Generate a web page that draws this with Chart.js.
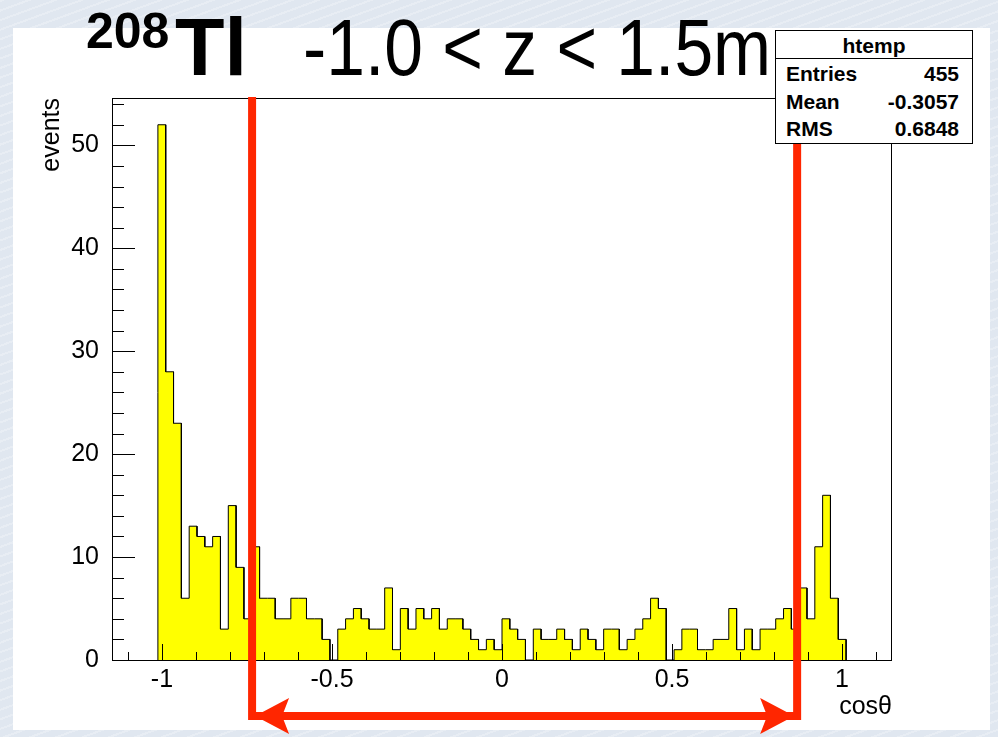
<!DOCTYPE html>
<html lang="en">
  <head>
    <meta charset="UTF-8" />
    <title>208Tl cos theta</title>
    <style>
      html,
      body {
        margin: 0;
        padding: 0;
      }
      body {
        width: 998px;
        height: 737px;
        position: relative;
        overflow: hidden;
        background-color: #e0e7f0;
        background-image: repeating-linear-gradient(
          160deg,
          rgba(255, 255, 255, 0.25) 0 2px,
          rgba(255, 255, 255, 0) 2px 9px
        );
        font-family: "Liberation Sans", Arial, sans-serif;
      }
      .panel {
        position: absolute;
        left: 13px;
        top: 28px;
        width: 977px;
        height: 702px;
        background: #fff;
      }
      #myChart {
        position: absolute;
        left: 0;
        top: 0;
      }
      .title {
        position: absolute;
        line-height: 1;
        white-space: nowrap;
        color: #000;
      }
      .narrow {
        transform: scaleX(0.87);
        transform-origin: left top;
      }
      /* stat box */
      .stats {
        position: absolute;
        left: 775px;
        top: 30px;
        width: 196px;
        height: 112px;
        border: 1px solid #000;
        background: #fff;
        font-weight: bold;
        font-size: 21px;
      }
      .stats .head {
        position: absolute;
        left: 0;
        top: 0;
        width: 100%;
        height: 27px;
        border-bottom: 1px solid #000;
        text-align: center;
        line-height: 30px;
      }
      .stats .row {
        position: absolute;
        left: 10px;
        right: 13px;
        height: 24px;
        line-height: 24px;
      }
      .stats .row span:last-child {
        float: right;
      }
    </style>
  </head>
  <body>
    <div class="panel"></div>
    <canvas id="myChart" width="998" height="737"></canvas>

    <div class="title" style="left: 86px; top: 6px; font-size: 50px; font-weight: bold">208</div>
    <div class="title" style="left: 175px; top: 7px; font-size: 81px; font-weight: bold">Tl</div>
    <div class="title narrow" style="left: 303px; top: 8px; font-size: 80px">-1.0 &lt; z &lt; 1.5m</div>

    <div class="stats" id="stats"></div>

    <script src="https://cdn.jsdelivr.net/npm/chart.js"></script>
    <script>
      // counts per bin (88 bins, sum = 455)
      const binCounts = [
        52, 28, 23, 6, 13, 12, 11, 12, 3, 15,
        9, 4, 11, 6, 6, 4, 4, 6, 6, 4,
        4, 2, 0, 3, 4, 5, 4, 3, 3, 7,
        1, 5, 3, 5, 4, 5, 3, 4, 4, 3,
        2, 1, 2, 1, 4, 3, 2, 0, 3, 2,
        2, 3, 2, 1, 3, 2, 1, 3, 3, 1,
        2, 3, 4, 6, 5, 0, 1, 3, 3, 1,
        1, 2, 2, 5, 1, 3, 1, 3, 3, 4,
        5, 3, 7, 4, 11, 16, 6, 2,
      ];
      const histRange = [-1.012, 1.012];
      const xAxisRange = [-1.147, 1.147];
      const yAxisRange = [0, 54.6];
      const xTickLabels = [-1, -0.5, 0, 0.5, 1];
      const yTickLabels = [0, 10, 20, 30, 40, 50];
      const cutValues = [-0.735, 0.868];
      const statTitle = "htemp";
      const statNames = ["Entries", "Mean", "RMS"];
      const statValues = ["455", "-0.3057", "0.6848"];

      const cutColor = "rgb(255, 38, 0)";
      const axisFont = { family: "'Liberation Sans', Arial, sans-serif", size: 25 };

      // stat box
      const stats = document.getElementById("stats");
      const head = document.createElement("div");
      head.className = "head";
      head.textContent = statTitle;
      stats.appendChild(head);
      const rowTops = [31, 59, 86];
      statNames.forEach((name, i) => {
        const row = document.createElement("div");
        row.className = "row";
        row.style.top = rowTops[i] + "px";
        row.innerHTML = `<span>${name}</span><span>${statValues[i]}</span>`;
        stats.appendChild(row);
      });

      // step outline of the histogram
      const binWidth = (histRange[1] - histRange[0]) / binCounts.length;
      const outline = [{ x: histRange[0], y: 0 }];
      binCounts.forEach((c, i) => {
        const lo = histRange[0] + i * binWidth;
        outline.push({ x: lo, y: c }, { x: lo + binWidth, y: c });
      });
      outline.push({ x: histRange[1], y: 0 });

      // ROOT style frame with inward ticks, plus the red cut lines
      const rootFrame = {
        id: "rootFrame",
        afterDatasetsDraw(chart) {
          const {
            ctx,
            chartArea: { left, right, top, bottom },
            scales: { x, y },
          } = chart;
          ctx.save();
          ctx.strokeStyle = "#000";
          ctx.lineWidth = 1;
          ctx.beginPath();
          for (let i = -11; i <= 11; i++) {
            const px = Math.round(x.getPixelForValue(i / 10)) + 0.5;
            const len = i % 5 === 0 ? 16 : 8;
            ctx.moveTo(px, bottom);
            ctx.lineTo(px, bottom - len);
          }
          for (let v = 0; v <= yAxisRange[1]; v += 2) {
            const py = Math.round(y.getPixelForValue(v)) + 0.5;
            const len = v % 10 === 0 ? 23 : 12;
            ctx.moveTo(left, py);
            ctx.lineTo(left + len, py);
          }
          ctx.stroke();
          ctx.strokeRect(left + 0.5, top + 0.5, right - left - 1, bottom - top);
          ctx.restore();
        },
        afterDraw(chart) {
          const {
            ctx,
            chartArea: { top },
            scales: { x },
          } = chart;
          const xl = x.getPixelForValue(cutValues[0]);
          const xr = x.getPixelForValue(cutValues[1]);
          const ya = 716;
          ctx.save();
          ctx.fillStyle = cutColor;
          ctx.fillRect(xl - 4, top - 1, 8, ya + 5 - top);
          ctx.fillRect(xr - 4, top - 1, 8, ya + 5 - top);
          ctx.fillRect(xl, ya - 4, xr - xl, 8);
          [
            [xl + 3, 1],
            [xr - 3, -1],
          ].forEach(([tip, d]) => {
            ctx.beginPath();
            ctx.moveTo(tip, ya);
            ctx.lineTo(tip + d * 34, ya - 18);
            ctx.lineTo(tip + d * 27, ya);
            ctx.lineTo(tip + d * 34, ya + 18);
            ctx.closePath();
            ctx.fill();
          });
          ctx.restore();
        },
      };

      const ctx = document.getElementById("myChart");
      const myChart = new Chart(ctx, {
        type: "line",
        data: {
          datasets: [
            {
              label: "htemp",
              data: outline,
              borderColor: "#000",
              borderWidth: 1,
              backgroundColor: "#ffff00",
              fill: "origin",
              pointRadius: 0,
              tension: 0,
            },
          ],
        },
        options: {
          responsive: false,
          animation: false,
          layout: { padding: { top: 98, right: 106, bottom: 0, left: 0 } },
          plugins: {
            legend: { display: false },
            tooltip: { enabled: false },
          },
          scales: {
            x: {
              type: "linear",
              min: xAxisRange[0],
              max: xAxisRange[1],
              grid: { display: false },
              border: { display: false },
              afterBuildTicks: (s) => {
                s.ticks = xTickLabels.map((v) => ({ value: v }));
              },
              afterFit: (s) => {
                s.height = 77;
              },
              ticks: {
                font: axisFont,
                color: "#000",
                padding: -3,
                maxRotation: 0,
                autoSkip: false,
                callback: (v) => String(v),
              },
              title: {
                display: true,
                text: "cosθ",
                align: "end",
                color: "#000",
                font: axisFont,
                padding: { top: 0, bottom: 15 },
              },
            },
            y: {
              min: yAxisRange[0],
              max: yAxisRange[1],
              grid: { display: false },
              border: { display: false },
              afterBuildTicks: (s) => {
                s.ticks = yTickLabels.map((v) => ({ value: v }));
              },
              afterFit: (s) => {
                s.width = 112;
              },
              ticks: {
                font: axisFont,
                color: "#000",
                padding: 5,
                autoSkip: false,
                callback: (v) => String(v),
              },
              title: {
                display: true,
                text: "events",
                align: "end",
                color: "#000",
                font: axisFont,
                padding: { top: 37, bottom: 0 },
              },
            },
          },
        },
        plugins: [rootFrame],
      });
    </script>
  </body>
</html>
